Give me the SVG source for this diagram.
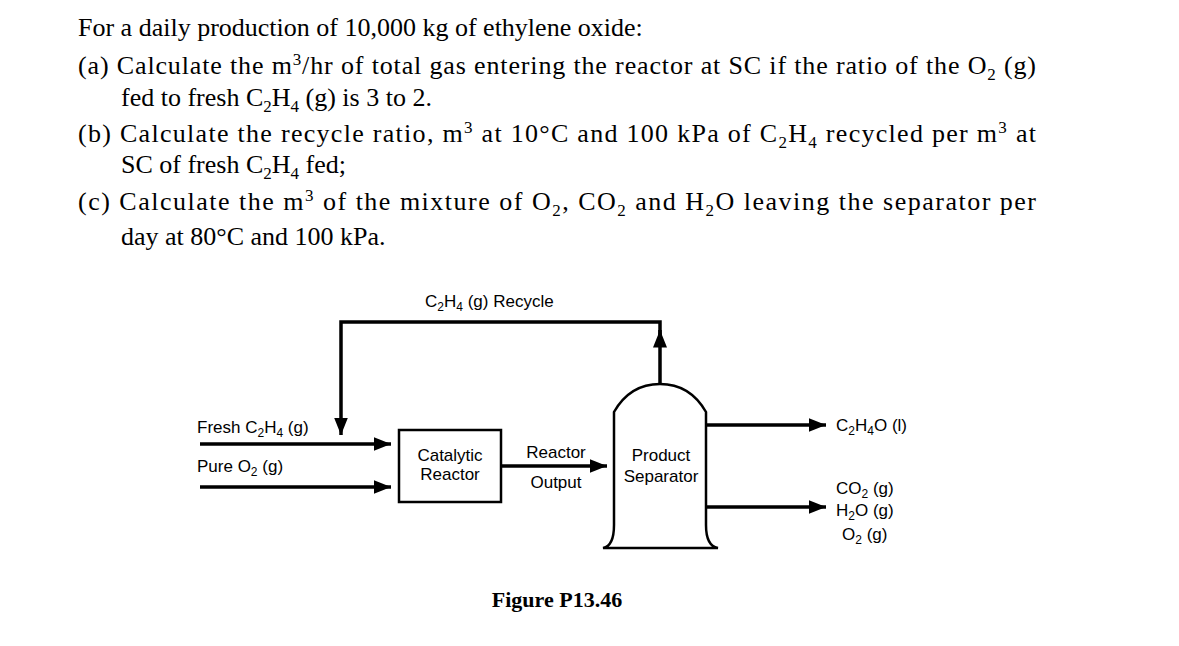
<svg xmlns="http://www.w3.org/2000/svg" width="1179" height="646" viewBox="0 0 1179 646">
<style>
.t{font-family:"Liberation Serif",serif;font-size:26px;fill:#000}
.s{font-family:"Liberation Sans",sans-serif;font-size:17px;fill:#000}
.ln{fill:none;stroke:#000;stroke-width:3.5}
.sh{fill:#fff;stroke:#000;stroke-width:2.5}
</style>
<defs><marker id="a" markerWidth="6" markerHeight="6" refX="5" refY="3" orient="auto" markerUnits="strokeWidth"><path d="M0,1 L5,3 L0,5 z" fill="#000"/></marker></defs>
<rect width="1179" height="646" fill="#fff"/>
<g id="problem">
<text class="t" x="78" y="36">For a daily production of 10,000 kg of ethylene oxide:</text>
<text class="t" x="78" y="74" textLength="958" lengthAdjust="spacing">(a) Calculate the m<tspan dy="-9" font-size="17">3</tspan><tspan dy="9">/hr of total gas entering the reactor at SC if the ratio of the O</tspan><tspan dy="6" font-size="17">2</tspan><tspan dy="-6"> (g)</tspan></text>
<text class="t" x="121" y="106">fed to fresh C<tspan dy="6" font-size="17">2</tspan><tspan dy="-6">H</tspan><tspan dy="6" font-size="17">4</tspan><tspan dy="-6"> (g) is 3 to 2.</tspan></text>
<text class="t" x="78" y="142" textLength="958" lengthAdjust="spacing">(b) Calculate the recycle ratio, m<tspan dy="-9" font-size="17">3</tspan><tspan dy="9"> at 10°C and 100 kPa of C</tspan><tspan dy="6" font-size="17">2</tspan><tspan dy="-6">H</tspan><tspan dy="6" font-size="17">4</tspan><tspan dy="-6"> recycled per m</tspan><tspan dy="-9" font-size="17">3</tspan><tspan dy="9"> at</tspan></text>
<text class="t" x="121" y="173">SC of fresh C<tspan dy="6" font-size="17">2</tspan><tspan dy="-6">H</tspan><tspan dy="6" font-size="17">4</tspan><tspan dy="-6"> fed;</tspan></text>
<text class="t" x="78" y="210" textLength="958" lengthAdjust="spacing">(c) Calculate the m<tspan dy="-9" font-size="17">3</tspan><tspan dy="9"> of the mixture of O</tspan><tspan dy="6" font-size="17">2</tspan><tspan dy="-6">, CO</tspan><tspan dy="6" font-size="17">2</tspan><tspan dy="-6"> and H</tspan><tspan dy="6" font-size="17">2</tspan><tspan dy="-6">O leaving the separator per</tspan></text>
<text class="t" x="121" y="245">day at 80°C and 100 kPa.</text>
</g>
<g id="connectors">
<path class="ln" d="M660,389 V322 H341 V435" marker-end="url(#a)"/>
<path class="ln" d="M660,345 V330" marker-end="url(#a)"/>
<path class="ln" d="M200,444 H391" marker-end="url(#a)"/>
<path class="ln" d="M200,487 H391" marker-end="url(#a)"/>
<path class="ln" d="M501,466 H607" marker-end="url(#a)"/>
<path class="ln" d="M706,425 H826" marker-end="url(#a)"/>
<path class="ln" d="M706,507 H826" marker-end="url(#a)"/>
</g>
<g id="reactor">
<rect class="sh" x="399" y="430" width="102" height="72"/>
<text class="s" x="450" y="461" text-anchor="middle">Catalytic</text>
<text class="s" x="450" y="480" text-anchor="middle">Reactor</text>
</g>
<g id="separator">
<path class="sh" d="M614,412 Q630,384 660,384 Q690,384 706,412 V525 Q706,546 718,548 H603 Q614,546 614,525 Z"/>
<text class="s" x="661" y="461" text-anchor="middle">Product</text>
<text class="s" x="661" y="482" text-anchor="middle">Separator</text>
</g>
<g id="labels">
<text class="s" x="425" y="307">C<tspan dy="4" font-size="12">2</tspan><tspan dy="-4">H</tspan><tspan dy="4" font-size="12">4</tspan><tspan dy="-4">  (g) Recycle</tspan></text>
<text class="s" x="197" y="433">Fresh C<tspan dy="4" font-size="12">2</tspan><tspan dy="-4">H</tspan><tspan dy="4" font-size="12">4</tspan><tspan dy="-4"> (g)</tspan></text>
<text class="s" x="197" y="472">Pure O<tspan dy="4" font-size="12">2</tspan><tspan dy="-4"> (g)</tspan></text>
<text class="s" x="556" y="458" text-anchor="middle">Reactor</text>
<text class="s" x="556" y="488" text-anchor="middle">Output</text>
<text class="s" x="836" y="431">C<tspan dy="4" font-size="12">2</tspan><tspan dy="-4">H</tspan><tspan dy="4" font-size="12">4</tspan><tspan dy="-4">O (l)</tspan></text>
<text class="s" x="836" y="494">CO<tspan dy="4" font-size="12">2</tspan><tspan dy="-4"> (g)</tspan></text>
<text class="s" x="836" y="516">H<tspan dy="4" font-size="12">2</tspan><tspan dy="-4">O (g)</tspan></text>
<text class="s" x="842" y="540">O<tspan dy="4" font-size="12">2</tspan><tspan dy="-4"> (g)</tspan></text>
</g>
<text x="557" y="607" text-anchor="middle" font-family="Liberation Serif,serif" font-size="22" font-weight="bold">Figure P13.46</text>
</svg>
